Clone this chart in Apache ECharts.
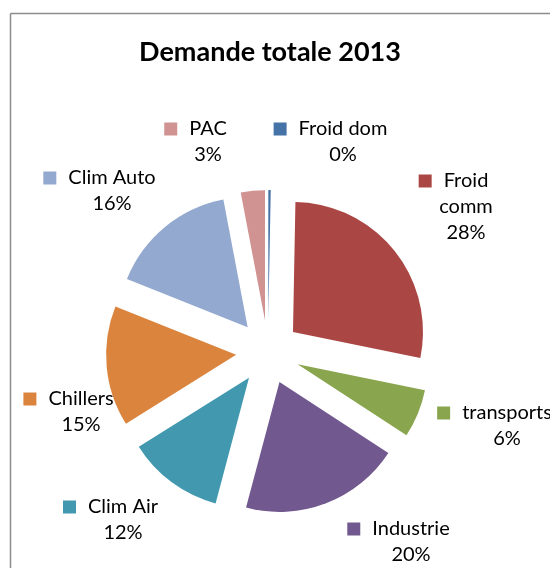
<!DOCTYPE html>
<html>
<head>
<meta charset="utf-8">
<script src="https://cdn.jsdelivr.net/npm/echarts@6/dist/echarts.min.js"></script>
<style>
  html, body { margin: 0; padding: 0; background: #ffffff; }
  #chart { width: 550px; height: 568px; }
</style>
</head>
<body>
<div id="chart"></div>
<script>
// Demand shares for 2013 (percent), clockwise from 12 o'clock
const categories = ['Froid dom', 'Froid comm', 'transports', 'Industrie', 'Clim Air', 'Chillers', 'Clim Auto', 'PAC'];
const shares = [0.3, 28, 6, 20, 12, 15, 16, 3];

// Slice colours
const colors = ['#4572A7', '#AA4643', '#89A54E', '#71588F', '#4198AF', '#DB843D', '#93A9CF', '#D19392'];

// Label anchors: centre x and centre of the first text line
const labelAnchors = [
  [343, 129], [466, 181], [507, 413], [411, 529],
  [123, 507], [81, 399], [112, 178], [208, 129]
];
// Names that break onto two lines in their label
const wrappedNames = ['Froid comm'];

const FONT = 'Lato, "Open Sans", sans-serif';
const LINE_H = 26;
const CENTER = [268, 352];
const RADIUS = 130;

const rich = {
  n: { fontFamily: FONT, fontSize: 20, color: '#000', lineHeight: LINE_H },
  g: { width: 12, height: 13 },
  p: { width: 25, height: 13 }
};
colors.forEach((c, i) => {
  rich['k' + i] = { width: 13, height: 13, backgroundColor: c };
});

const pieData = categories.map((name, i) => ({ name: name, value: shares[i] }));

const chart = echarts.init(document.getElementById('chart'), null, { renderer: 'canvas' });

chart.setOption({
  backgroundColor: '#ffffff',
  animation: false,
  color: colors,
  graphic: [
    {
      type: 'line',
      shape: { x1: 10.5, y1: 13.5, x2: 550, y2: 13.5 },
      style: { stroke: '#8c8c8c', lineWidth: 1.5 },
      silent: true
    },
    {
      type: 'line',
      shape: { x1: 10.5, y1: 13.5, x2: 10.5, y2: 568 },
      style: { stroke: '#8c8c8c', lineWidth: 1.5 },
      silent: true
    },
    {
      type: 'text',
      x: 270, y: 52,
      style: {
        text: 'Demande totale 2013',
        font: 'bold 27px ' + FONT,
        fill: '#000',
        align: 'center',
        verticalAlign: 'middle'
      },
      silent: true
    }
  ],
  series: [
    {
      // exploded slices
      type: 'pie',
      center: CENTER,
      radius: RADIUS,
      startAngle: 90,
      clockwise: true,
      selectedMode: 'multiple',
      selectedOffset: 32,
      emphasis: { disabled: true },
      itemStyle: { borderWidth: 0 },
      label: { show: false },
      labelLine: { show: false },
      data: pieData.map(d => ({ name: d.name, value: d.value, selected: true }))
    },
    {
      // data labels with legend keys
      type: 'pie',
      center: CENTER,
      radius: RADIUS,
      startAngle: 90,
      clockwise: true,
      silent: true,
      percentPrecision: 0,
      avoidLabelOverlap: false,
      emphasis: { disabled: true },
      itemStyle: { color: 'rgba(0,0,0,0)', borderWidth: 0 },
      labelLine: { show: false },
      label: {
        show: true,
        position: 'outside',
        align: 'center',
        lineHeight: LINE_H,
        rich: rich,
        formatter: function (p) {
          const parts = wrappedNames.indexOf(p.name) >= 0 ? p.name.split(' ') : [p.name];
          const lines = ['{k' + p.dataIndex + '|}{g|}{n|' + parts[0] + '}{p|}'];
          for (let i = 1; i < parts.length; i++) lines.push('{n|' + parts[i] + '}');
          lines.push('{n|' + p.percent + '%}');
          return lines.join('\n');
        }
      },
      labelLayout: function (params) {
        const a = labelAnchors[params.dataIndex];
        return { x: a[0], y: a[1] - LINE_H / 2, align: 'center', verticalAlign: 'top' };
      },
      data: pieData
    }
  ]
});
</script>
</body>
</html>
